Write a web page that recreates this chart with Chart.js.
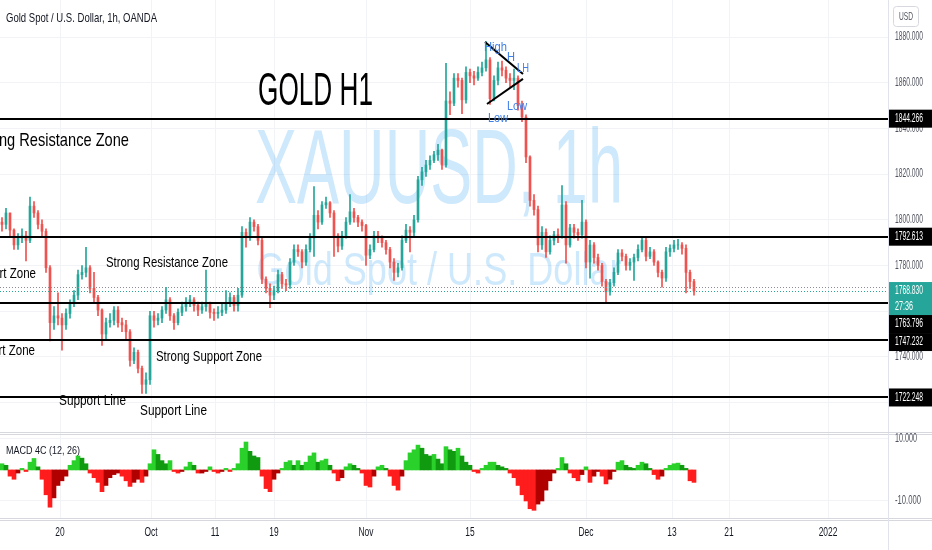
<!DOCTYPE html>
<html>
<head>
<meta charset="utf-8">
<script src="https://cdn.jsdelivr.net/npm/chart.js@4.4.1/dist/chart.umd.min.js"></script>
<style>
  html, body { margin: 0; padding: 0; background: #fff; }
  #wrap { position: relative; width: 932px; height: 550px; overflow: hidden; background: #fff; }
  #pricePane { position: absolute; left: 0; top: 0; width: 932px; height: 433px; }
  #macdPane { position: absolute; left: 0; top: 433px; width: 932px; height: 117px; }
</style>
</head>
<body>
<div id="wrap">
  <div id="pricePane"><canvas id="priceChart"></canvas></div>
  <div id="macdPane"><canvas id="macdChart"></canvas></div>
</div>
<script>
const firstOpen = 1799;
const closes = [
  1798, 1803, 1795.5, 1789, 1792, 1793, 1791, 1806, 1803, 1798,
  1795, 1779, 1755, 1758, 1757, 1754, 1759, 1763.5, 1767, 1776,
  1777, 1779, 1770, 1766, 1760.5, 1750, 1755, 1756, 1760.5, 1755,
  1754, 1751, 1738.5, 1742, 1735, 1728, 1730, 1758, 1756, 1757,
  1760.5, 1765, 1758, 1755, 1759.5, 1762, 1764, 1765, 1762.5, 1760.5,
  1762, 1763, 1759.5, 1759, 1759.5, 1760.5, 1763.5, 1766, 1762.5, 1767,
  1794.5, 1792.5, 1799, 1797, 1791, 1774, 1770, 1767, 1769, 1776,
  1772, 1771.5, 1781.5, 1787, 1786, 1781.5, 1787, 1792, 1802, 1799,
  1806.5, 1807.5, 1803, 1793, 1788.5, 1793, 1799, 1803.5, 1801, 1799,
  1797.5, 1784.5, 1787, 1793, 1792, 1790, 1787, 1781.5, 1777, 1779,
  1791, 1795.5, 1794.5, 1800, 1817.5, 1821, 1824, 1826, 1828.5, 1830.5,
  1824, 1852, 1851, 1862, 1861, 1852.5, 1864.5, 1863, 1862, 1864.5,
  1866.5, 1870, 1853, 1861, 1866.5, 1865.5, 1862, 1861, 1862, 1850,
  1845, 1827.5, 1808.5, 1804.5, 1789, 1794.5, 1786, 1791, 1793.5, 1793,
  1806.5, 1789, 1796.5, 1794.5, 1793.5, 1799, 1781.5, 1789, 1783.5, 1780,
  1773, 1768.5, 1772.5, 1777, 1785.5, 1784, 1780, 1781.5, 1783.5, 1787,
  1791, 1784, 1786, 1781.5, 1777, 1774.5, 1786, 1787.5, 1789, 1789,
  1787.5, 1777, 1773, 1768.83
];
const highs = [
  1801, 1805, 1803, 1796, 1794, 1796, 1795, 1810, 1808, 1804,
  1800, 1796, 1780, 1762, 1768, 1759, 1761, 1765, 1769, 1778,
  1780, 1788, 1780, 1777, 1767, 1761, 1757, 1759, 1762, 1762,
  1757, 1756, 1752, 1744, 1743, 1736, 1733, 1760, 1760, 1759,
  1762, 1770.5, 1766, 1759, 1761, 1764, 1766, 1767, 1766, 1764,
  1764, 1778, 1764, 1761, 1762, 1763, 1769, 1768, 1767, 1770,
  1797, 1796, 1801, 1800, 1798, 1792, 1775, 1772, 1771, 1778,
  1777, 1774, 1783, 1789, 1789, 1787, 1789, 1794, 1814.5, 1804,
  1808, 1810, 1808, 1804, 1794, 1795, 1801, 1811, 1805, 1802,
  1800, 1798, 1789, 1795, 1795, 1793, 1791, 1788, 1783, 1781,
  1793, 1798, 1797, 1802, 1819, 1823, 1826, 1828, 1830, 1833,
  1831, 1868.5, 1856, 1864, 1864, 1862, 1867, 1866, 1865, 1867,
  1869, 1878, 1871, 1863, 1869, 1869.5, 1867, 1864, 1866, 1863,
  1852, 1846, 1828, 1811, 1806, 1797, 1796, 1793, 1795, 1796,
  1815, 1808, 1798, 1798, 1796, 1808.5, 1800, 1791, 1790, 1785,
  1781, 1774, 1774, 1779, 1787, 1787, 1785, 1783, 1785, 1789,
  1792.5, 1792, 1788, 1787, 1782, 1778, 1788, 1789, 1791, 1791.5,
  1790, 1789, 1778, 1774
];
const lows = [
  1795, 1796, 1793, 1787, 1787, 1790, 1782, 1790, 1801, 1796,
  1793, 1777, 1747, 1752, 1754, 1743, 1752, 1757, 1762, 1765,
  1774, 1775, 1768, 1764, 1758, 1745, 1748, 1753, 1754, 1753,
  1751, 1748, 1736, 1737, 1733, 1724, 1724, 1728, 1753, 1754,
  1755, 1759, 1756, 1752, 1754, 1758, 1760, 1762, 1760, 1758,
  1759, 1760, 1757, 1756, 1757, 1758, 1759, 1762, 1760, 1760,
  1766, 1788, 1791, 1795, 1789, 1772, 1768, 1761.5, 1765, 1768,
  1770, 1769, 1770, 1780, 1784, 1779, 1780, 1786, 1784, 1796,
  1798, 1805, 1801, 1784, 1786, 1787, 1792, 1798, 1799, 1797,
  1795, 1780, 1783, 1786, 1790, 1788, 1785, 1779, 1773.5, 1775,
  1778, 1790, 1786, 1793, 1799, 1815, 1819, 1822, 1825, 1826,
  1822, 1823, 1846, 1850, 1858, 1846.5, 1851, 1860, 1859, 1861,
  1863, 1865, 1850.5, 1852, 1859, 1863, 1860, 1858, 1857, 1848,
  1843, 1825, 1806, 1802, 1786, 1787, 1783.5, 1785, 1789, 1790,
  1792, 1781, 1788, 1792, 1791, 1792, 1779, 1774.5, 1781, 1778,
  1771, 1763.5, 1767, 1771, 1776, 1782, 1778, 1778, 1773.5, 1782,
  1786, 1782, 1783, 1780, 1775, 1770.5, 1773, 1784, 1786, 1787,
  1785, 1768, 1770, 1767
];
// MACD 4C (12, 26) histogram, one value per candle
const macdHist = [
  2, 1.5, -2, -3, -1, 0.5, -0.5, 2.5, 3.7, 1,
  -3, -8, -12, -9, -5, -3.5, -2, 1.5, 3, 4.5,
  3.8, 2, -1, -2.5, -4, -7, -5, -2.5, -1.5, -1,
  -2, -3.5, -5.3, -4, -3, -4, -2, 2, 6.5, 5,
  3, 2, 3, -0.5, -1, -0.5, 1, 2.5, 1.5, -1,
  -1, -0.5, 1, -0.5, -1, -0.5, 0.5, -0.5, 0.5, 2,
  7, 9, 6, 4.5, 4, -2, -6, -7, -3, -1,
  0.5, 2.5, 3, 1.5, 3, 1.5, 2.5, 4.5, 5.5, 2.5,
  3, 3.5, 1.5, -1, -3.5, -2.5, 1, 2, 1.5, 0.5,
  -1, -5, -5.5, -2, 1, 1.5, 0.5, -2, -5, -6.5,
  -2, 3, 5.5, 6.5, 8, 7, 5, 4.5, 5, 3.5,
  2, 7.5, 6.5, 6, 7, 4.5, 2.5, 1.5, -0.5, -1,
  0.5, 1.5, 2.5, 2.5, 1.5, 1, 0.5, -1, -2.5, -5,
  -8, -10, -12.5, -13, -11, -10, -6.5, -3.5, -1, 0.5,
  4, 2, -1, -2.5, -3.5, -1.5, 1, -4, -2, -0.5,
  -2, -4.5, -3, -0.5, 2.5, 3, 1.5, 0.8, 0.5, 1.5,
  2.5, 2, 0.5, -1.5, -3, -2, 0.5, 1.5, 2, 2.2,
  1.5, 0.5, -3.5, -4
];
// time axis: label text and the slot (candle index) it sits on
const tickText = ['20', 'Oct', '11', '19', 'Nov', '15', 'Dec', '13', '21', '2022'];
const tickSlot = [14.5, 37.25, 53.25, 68, 91, 117, 146, 167.5, 181.75, 206.5];
// drawn horizontal levels and live price
const levels = [1844.266, 1792.613, 1763.796, 1747.232, 1722.248];
const lastPrice = 1768.830;
const prevClose = 1770.5;
const countdown = '27:36';

const SLOTS = 222; // candles + empty space to the right
const slots = Array.from({ length: SLOTS }, (_, i) => String(i));
const UP = '#26a69a', DOWN = '#ef5350';
const GRID = '#f2f3f6';
const INK = '#131722';
const FONT = '"Liberation Sans", Arial, sans-serif';

// each bar opens at the previous close
const opens = closes.map((c, i) => (i === 0 ? firstOpen : closes[i - 1]));
const candleColors = closes.map((c, i) => (c >= opens[i] ? UP : DOWN));
const macdColors = macdHist.map((v, i) => {
  const prev = i ? macdHist[i - 1] : 0;
  if (v >= 0) return v >= prev ? '#2bd12b' : '#109a10';
  return v < prev ? '#ff1c1c' : '#b00000';
});

function drawText(ctx, s, x, y, size, color, o) {
  o = o || {};
  ctx.save();
  ctx.font = (o.weight ? o.weight + ' ' : '') + size + 'px ' + FONT;
  ctx.fillStyle = color;
  ctx.textAlign = o.align || 'left';
  ctx.textBaseline = o.baseline || 'alphabetic';
  const w = o.width || ctx.measureText(s).width * (o.k || 1);
  ctx.fillText(s, x, y, w);
  ctx.restore();
}

function seg(ctx, x1, y1, x2, y2) {
  ctx.beginPath();
  ctx.moveTo(x1, y1);
  ctx.lineTo(x2, y2);
  ctx.stroke();
}

// notes placed on the chart, anchored in slot / price units
const notes = [
  { t: 'GOLD H1', s: 64, p: 1850.2, size: 46, w: 115, c: '#000' },
  { t: 'Strong Resistance Zone', s: 31.75, p: 1832.3, size: 19, k: 0.77, c: '#000', align: 'right' },
  { t: 'Strong Resistance Zone', s: 26, p: 1779.3, size: 15, w: 122, c: '#000' },
  { t: 'Support Zone', s: 8.5, p: 1774.5, size: 15, k: 0.77, c: '#000', align: 'right' },
  { t: 'Support Zone', s: 8.25, p: 1740.8, size: 15, k: 0.77, c: '#000', align: 'right' },
  { t: 'Strong Support Zone', s: 38.5, p: 1738.2, size: 15, w: 106, c: '#000' },
  { t: 'Support Line', s: 14.25, p: 1719, size: 15, w: 67, c: '#000' },
  { t: 'Support Line', s: 34.5, p: 1714.6, size: 15, w: 67, c: '#000' },
  { t: 'High', s: 120.5, p: 1873.9, size: 13, w: 23, c: '#3f7fe8' },
  { t: 'H', s: 126.25, p: 1869.5, size: 13, w: 8, c: '#3f7fe8' },
  { t: 'LH', s: 128.75, p: 1864.7, size: 13, w: 12, c: '#3f7fe8' },
  { t: 'Low', s: 126.25, p: 1848.1, size: 13, w: 20, c: '#3f7fe8' },
  { t: 'Low', s: 121.5, p: 1842.8, size: 13, w: 20, c: '#3f7fe8' }
];
// triangle drawn over the top
const triangle = [
  [120.75, 1877.8, 130.25, 1863.8],
  [121.25, 1850.7, 130.25, 1861.7]
];

const pricePlugin = {
  id: 'pricePane',
  beforeDatasetsDraw(chart) {
    const { ctx, chartArea: a, scales: { x } } = chart;
    ctx.save();
    ctx.strokeStyle = GRID;
    ctx.lineWidth = 1;
    tickSlot.forEach(s => {
      const px = Math.round(x.getPixelForValue(s)) + 0.5;
      seg(ctx, px, a.top, px, a.bottom);
    });
    const cx = (a.left + a.right) / 2 - 5;
    const wm = 'rgba(33,150,243,0.22)';
    drawText(ctx, 'XAUUSD, 1h', cx, 203, 105, wm, { align: 'center', width: 368 });
    drawText(ctx, 'Gold Spot / U.S. Dollar', cx, 285, 46, wm, { align: 'center', width: 365 });
    ctx.restore();
  },
  afterDatasetsDraw(chart) {
    const { ctx, chartArea: a, scales: { x, y } } = chart;
    ctx.save();
    // dotted price lines
    ctx.lineWidth = 1;
    ctx.setLineDash([1, 2]);
    ctx.strokeStyle = '#8a8d96';
    let py = Math.round(y.getPixelForValue(prevClose)) + 0.5;
    seg(ctx, a.left, py, a.right, py);
    ctx.strokeStyle = UP;
    py = Math.round(y.getPixelForValue(lastPrice)) + 0.5;
    seg(ctx, a.left, py, a.right, py);
    ctx.setLineDash([]);
    // levels
    ctx.strokeStyle = '#000';
    ctx.lineWidth = 2;
    levels.forEach(v => {
      const ly = Math.round(y.getPixelForValue(v));
      seg(ctx, a.left, ly, a.right, ly);
    });
    triangle.forEach(t => {
      seg(ctx, x.getPixelForValue(t[0]), y.getPixelForValue(t[1]), x.getPixelForValue(t[2]), y.getPixelForValue(t[3]));
    });
    notes.forEach(n => {
      drawText(ctx, n.t, x.getPixelForValue(n.s), y.getPixelForValue(n.p), n.size, n.c,
        { align: n.align, width: n.w, k: n.k });
    });
    ctx.restore();
  },
  afterDraw(chart) {
    const { ctx, chartArea: a, scales: { y }, height } = chart;
    ctx.save();
    // axis separator and pane bottom
    ctx.strokeStyle = '#e0e3eb';
    ctx.lineWidth = 1;
    seg(ctx, a.right + 0.5, 0, a.right + 0.5, height);
    ctx.strokeStyle = '#d6d8de';
    seg(ctx, 0, height - 0.5, chart.width, height - 0.5);
    // price scale labels
    y.ticks.forEach(t => {
      drawText(ctx, t.value.toFixed(3), a.right + 7, y.getPixelForValue(t.value), 12, '#50535e',
        { baseline: 'middle', width: 28 });
    });
    // level / price boxes, pushed down when they collide
    const boxes = levels.map(v => ({ v, bg: '#000', lines: [v.toFixed(3)] }));
    boxes.push({ v: lastPrice, bg: UP, lines: [lastPrice.toFixed(3), countdown] });
    boxes.sort((p, q) => q.v - p.v);
    let bottom = -Infinity;
    boxes.forEach(b => {
      const h = b.lines.length === 1 ? 18 : 33;
      const top = Math.max(y.getPixelForValue(b.v) - 9, bottom);
      bottom = top + h;
      ctx.fillStyle = b.bg;
      ctx.fillRect(a.right + 1, top, chart.width - a.right - 1, h);
      b.lines.forEach((s, i) => {
        drawText(ctx, s, a.right + 7, top + 9 + i * 16, 12, '#fff',
          { baseline: 'middle', width: s.length > 5 ? 28 : 18 });
      });
    });
    // currency button
    ctx.strokeStyle = '#d6d8de';
    ctx.lineWidth = 1;
    ctx.beginPath();
    ctx.roundRect(a.right + 5.5, 6.5, 25, 20, 3);
    ctx.stroke();
    drawText(ctx, 'USD', a.right + 18, 17, 11, '#50535e', { align: 'center', baseline: 'middle', width: 14 });
    // title
    drawText(ctx, 'Gold Spot / U.S. Dollar, 1h, OANDA', 6, 22, 13, INK, { width: 151 });
    ctx.restore();
  }
};

const macdPlugin = {
  id: 'macdPane',
  beforeDatasetsDraw(chart) {
    const { ctx, chartArea: a, scales: { x } } = chart;
    ctx.save();
    ctx.strokeStyle = GRID;
    ctx.lineWidth = 1;
    tickSlot.forEach(s => {
      const px = Math.round(x.getPixelForValue(s)) + 0.5;
      seg(ctx, px, a.top, px, a.bottom);
    });
    ctx.restore();
  },
  afterDraw(chart) {
    const { ctx, chartArea: a, scales: { x, y }, height } = chart;
    ctx.save();
    ctx.strokeStyle = '#d6d8de';
    ctx.lineWidth = 1;
    seg(ctx, 0, 1.5, chart.width, 1.5);
    seg(ctx, 0, a.bottom - 0.5, chart.width, a.bottom - 0.5);
    seg(ctx, 0, a.bottom + 1.5, chart.width, a.bottom + 1.5);
    ctx.strokeStyle = '#e0e3eb';
    seg(ctx, a.right + 0.5, 0, a.right + 0.5, height);
    drawText(ctx, 'MACD 4C (12, 26)', 6, 18, 11, INK, { baseline: 'middle', width: 74 });
    y.ticks.forEach(t => {
      drawText(ctx, t.value.toFixed(3), a.right + 7, y.getPixelForValue(t.value), 12, '#50535e',
        { baseline: 'middle', width: t.value < 0 ? 26 : 22 });
    });
    tickText.forEach((s, i) => {
      drawText(ctx, s, x.getPixelForValue(tickSlot[i]), a.bottom + 14, 12, INK,
        { align: 'center', baseline: 'middle', k: 0.7 });
    });
    ctx.restore();
  }
};

new Chart(document.getElementById('priceChart'), {
  type: 'bar',
  data: {
    labels: slots,
    datasets: [
      {
        data: closes.map((c, i) => [opens[i], c]),
        backgroundColor: candleColors,
        barThickness: 2,
        grouped: false,
        order: 0
      },
      {
        data: highs.map((h, i) => [lows[i], h]),
        backgroundColor: candleColors,
        barThickness: 1,
        grouped: false,
        order: 1
      }
    ]
  },
  options: {
    responsive: true,
    maintainAspectRatio: false,
    animation: false,
    layout: { padding: 0 },
    plugins: { legend: { display: false }, tooltip: { enabled: false } },
    scales: {
      x: { display: false, offset: true },
      y: {
        position: 'right',
        min: 1706.7,
        max: 1896.2,
        ticks: { stepSize: 20, includeBounds: false, display: false },
        grid: { color: GRID, drawTicks: false },
        border: { display: false },
        afterFit: s => { s.width = 44; }
      }
    }
  },
  plugins: [pricePlugin]
});

new Chart(document.getElementById('macdChart'), {
  type: 'bar',
  data: {
    labels: slots,
    datasets: [{
      data: macdHist,
      backgroundColor: macdColors,
      barPercentage: 1,
      categoryPercentage: 1
    }]
  },
  options: {
    responsive: true,
    maintainAspectRatio: false,
    animation: false,
    layout: { padding: 0 },
    plugins: { legend: { display: false }, tooltip: { enabled: false } },
    scales: {
      x: {
        offset: true,
        ticks: { display: false },
        grid: { display: false },
        border: { display: false },
        afterFit: s => { s.height = 31; }
      },
      y: {
        position: 'right',
        min: -15.8,
        max: 11.9,
        afterBuildTicks: s => { s.ticks = [{ value: 10 }, { value: -10 }]; },
        ticks: { display: false },
        grid: { color: GRID, drawTicks: false },
        border: { display: false },
        afterFit: s => { s.width = 44; }
      }
    }
  },
  plugins: [macdPlugin]
});
</script>
</body>
</html>
